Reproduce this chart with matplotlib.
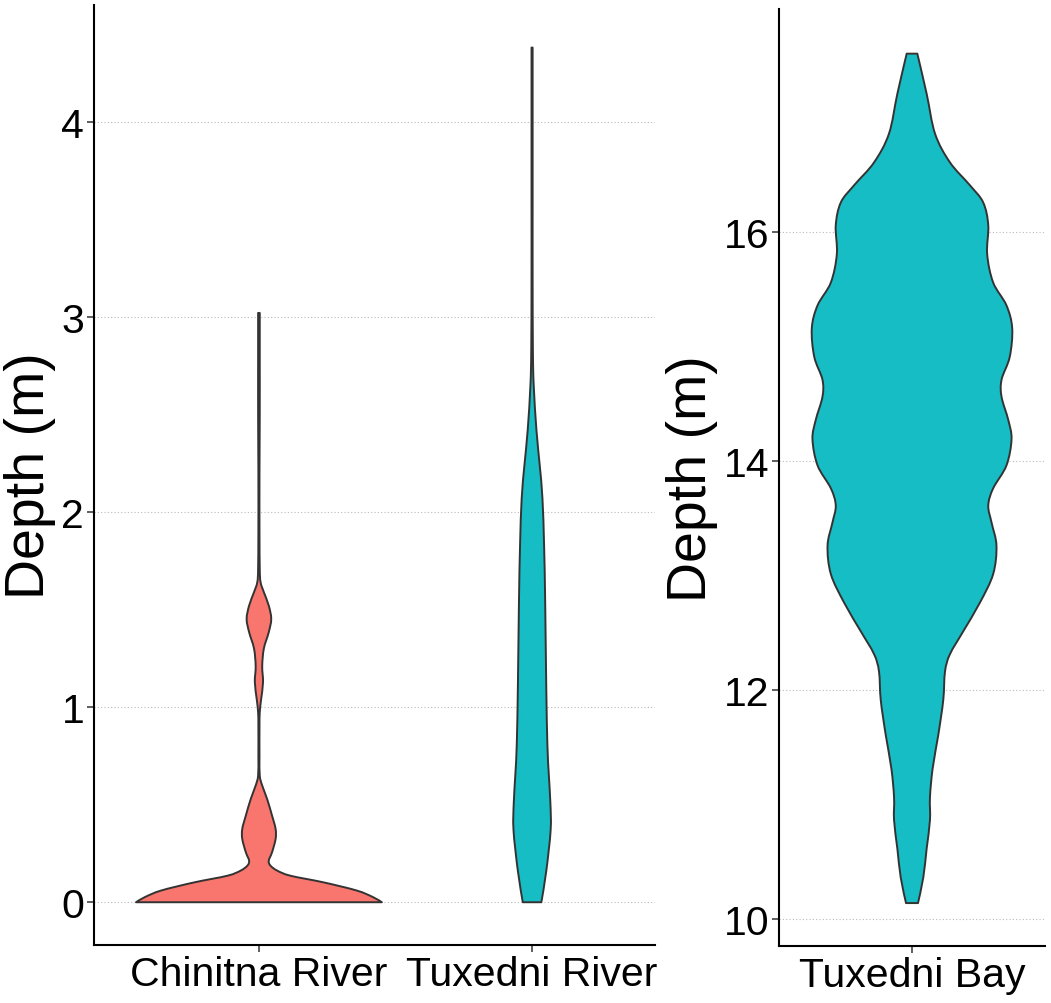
import matplotlib
matplotlib.use("Agg")
import matplotlib.pyplot as plt
from matplotlib.path import Path
from matplotlib.patches import PathPatch

plt.rcParams['font.family'] = ['Liberation Sans', 'DejaVu Sans']

# violin outlines: depth (m) and half-width (x units)
chinitna_depth = [0.0, 0.026, 0.06, 0.102, 0.136, 0.162, 0.188, 0.213, 0.256, 0.324,
                  0.376, 0.444, 0.529, 0.598, 0.649, 0.75, 0.9, 0.974, 1.04, 1.127,
                  1.21, 1.30, 1.384, 1.452, 1.52, 1.589, 1.64, 1.71, 1.9, 2.2, 2.5,
                  2.8, 3.02]
chinitna_hw = [0.45, 0.418, 0.358, 0.236, 0.115, 0.067, 0.042, 0.036, 0.048, 0.061,
               0.061, 0.048, 0.030, 0.012, 0.003, 0.002, 0.002, 0.003, 0.008, 0.015,
               0.012, 0.018, 0.036, 0.045, 0.036, 0.018, 0.006, 0.003, 0.002, 0.002,
               0.003, 0.003, 0.003]

tux_river_depth = [0.0, 0.16, 0.37, 0.51, 0.66, 0.81, 1.10, 1.54, 1.83, 2.07, 2.24,
                   2.42, 2.65, 2.83, 3.2, 3.6, 4.0, 4.38]
tux_river_hw = [0.034, 0.052, 0.068, 0.067, 0.061, 0.056, 0.052, 0.048, 0.044, 0.038,
                0.028, 0.016, 0.006, 0.003, 0.002, 0.002, 0.002, 0.002]

tux_bay_depth = [10.135, 10.36, 10.61, 10.86, 11.06, 11.31, 11.61, 11.91, 12.16, 12.31,
                 12.51, 12.76, 13.01, 13.26, 13.46, 13.61, 13.76, 13.96, 14.19, 14.36,
                 14.56, 14.71, 14.91, 15.16, 15.36, 15.56, 15.81, 16.06, 16.26, 16.41,
                 16.61, 16.86, 17.21, 17.56]
tux_bay_hw = [0.027, 0.051, 0.066, 0.081, 0.081, 0.093, 0.119, 0.141, 0.149, 0.171,
              0.231, 0.306, 0.366, 0.381, 0.359, 0.344, 0.366, 0.426, 0.449, 0.434,
              0.404, 0.404, 0.441, 0.452, 0.426, 0.366, 0.339, 0.344, 0.321, 0.261,
              0.171, 0.104, 0.066, 0.024]

left_sites = ["Chinitna River", "Tuxedni River"]
right_sites = ["Tuxedni Bay"]
salmon = "#F8766D"
teal = "#17BDC4"


def smooth_side(pts):
    # catmull-rom through the outline points, as bezier pieces
    verts, codes = [], []
    n = len(pts)
    for i in range(n - 1):
        p0 = pts[max(i - 1, 0)]
        p1 = pts[i]
        p2 = pts[i + 1]
        p3 = pts[min(i + 2, n - 1)]
        c1 = (p1[0] + (p2[0] - p0[0]) / 6, p1[1] + (p2[1] - p0[1]) / 6)
        c2 = (p2[0] - (p3[0] - p1[0]) / 6, p2[1] - (p3[1] - p1[1]) / 6)
        verts += [c1, c2, p2]
        codes += [Path.CURVE4] * 3
    return verts, codes


def violin(ax, pos, depth, hw, color):
    right = [(pos + w, d) for w, d in zip(hw, depth)]
    left = [(pos - w, d) for w, d in zip(hw[::-1], depth[::-1])]
    verts = [left[-1], right[0]]
    codes = [Path.MOVETO, Path.LINETO]
    v, c = smooth_side(right)
    verts += v
    codes += c
    verts.append(left[0])
    codes.append(Path.LINETO)
    v, c = smooth_side(left)
    verts += v
    codes += c
    verts.append(left[-1])
    codes.append(Path.CLOSEPOLY)
    patch = PathPatch(Path(verts, codes), facecolor=color, edgecolor="#333333",
                      linewidth=1.4, joinstyle="round", zorder=3)
    ax.add_patch(patch)


def style(ax):
    for s in ["top", "right"]:
        ax.spines[s].set_visible(False)
    for s in ["left", "bottom"]:
        ax.spines[s].set_linewidth(1.5)
        ax.spines[s].set_color("black")
    ax.tick_params(axis="both", length=5, width=1.1, color="#333333",
                   labelsize=29.5, labelcolor="black", pad=2)
    ax.yaxis.grid(True, linestyle=(0, (1, 2)), color="#BBBBBB", linewidth=0.8)
    ax.set_axisbelow(True)
    ax.set_ylabel("Depth (m)", fontsize=40, labelpad=4)


fig = plt.figure(figsize=(10.51, 10.04), dpi=100)
ax1 = fig.add_axes([0.0894, 0.0578, 0.5338, 0.9362])
ax2 = fig.add_axes([0.7412, 0.0568, 0.2531, 0.9332])

violin(ax1, 1, chinitna_depth, chinitna_hw, salmon)
violin(ax1, 2, tux_river_depth, tux_river_hw, teal)
ax1.set_xlim(0.396, 2.45)
ax1.set_ylim(-0.219, 4.598)
ax1.set_xticks([1, 2])
ax1.set_xticklabels(left_sites)
ax1.set_yticks([0, 1, 2, 3, 4])
style(ax1)

violin(ax2, 1, tux_bay_depth, tux_bay_hw, teal)
ax2.set_xlim(0.4, 1.6)
ax2.set_ylim(9.76, 17.95)
ax2.set_xticks([1])
ax2.set_xticklabels(right_sites)
ax2.set_yticks([10, 12, 14, 16])
style(ax2)

fig.savefig("out.png", dpi=100)
